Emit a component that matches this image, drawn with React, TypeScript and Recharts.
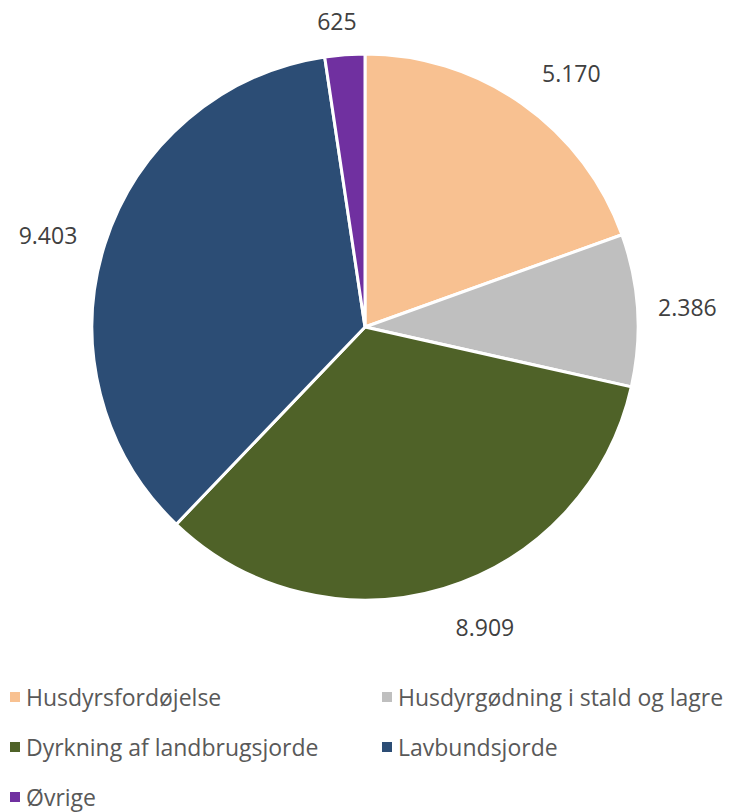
import React from 'react';
import { PieChart, Pie, Cell, Legend } from 'recharts';

const categories = [
  'Husdyrsfordøjelse',
  'Husdyrgødning i stald og lagre',
  'Dyrkning af landbrugsjorde',
  'Lavbundsjorde',
  'Øvrige',
];
const values = [5170, 2386, 8909, 9403, 625];
const colors = ['#F8C191', '#BFBFBF', '#4F6228', '#2C4D75', '#7030A0'];
// label placement tweaks: distance outside the rim, and clockwise angle nudge (deg)
const labelGaps = [54, 50, 50, 57, 34];
const labelNudge = [4, 0, -5, -1.5, -1];

const data = categories.map((name, i) => ({ name, value: values[i] }));

const RADIAN = Math.PI / 180;
const FONT = '"Open Sans", Lato, sans-serif';

const fmt = (v: number) => v.toLocaleString('da-DK');

const renderLabel = (props: any) => {
  const { cx, cy, midAngle, outerRadius, value, index } = props;
  const r = outerRadius + labelGaps[index];
  const a = (midAngle - labelNudge[index]) * RADIAN;
  const x = cx + r * Math.cos(-a);
  const y = cy + r * Math.sin(-a);
  return (
    <text x={x} y={y} fill="#404040" fontSize={23} fontFamily={FONT} textAnchor="middle" dominantBaseline="central">
      {fmt(value)}
    </text>
  );
};

const renderLegend = () => (
  <div style={{ position: 'relative', width: 737, height: 130, fontFamily: FONT, fontSize: 23, color: '#595959' }}>
    {data.map((d, i) => {
      const col = i % 2;
      const row = Math.floor(i / 2);
      return (
        <div
          key={d.name}
          style={{ position: 'absolute', left: col === 0 ? 2 : 374, top: row * 50, display: 'flex', alignItems: 'center', height: 30, whiteSpace: 'nowrap' }}
        >
          <span style={{ display: 'inline-block', width: 10, height: 10, background: colors[i], marginRight: 6 }} />
          <span>{d.name}</span>
        </div>
      );
    })}
  </div>
);

export default function App() {
  return (
    <PieChart width={737} height={804}>
      <Pie
        data={data}
        dataKey="value"
        nameKey="name"
        cx={352}
        cy={314}
        outerRadius={273}
        startAngle={90}
        endAngle={-270}
        stroke="#FFFFFF"
        strokeWidth={3}
        label={renderLabel}
        labelLine={false}
        isAnimationActive={false}
      >
        {data.map((d, i) => (
          <Cell key={d.name} fill={colors[i]} />
        ))}
      </Pie>
      <Legend content={renderLegend} wrapperStyle={{ position: 'absolute', left: 0, top: 674, width: 737 }} />
    </PieChart>
  );
}
